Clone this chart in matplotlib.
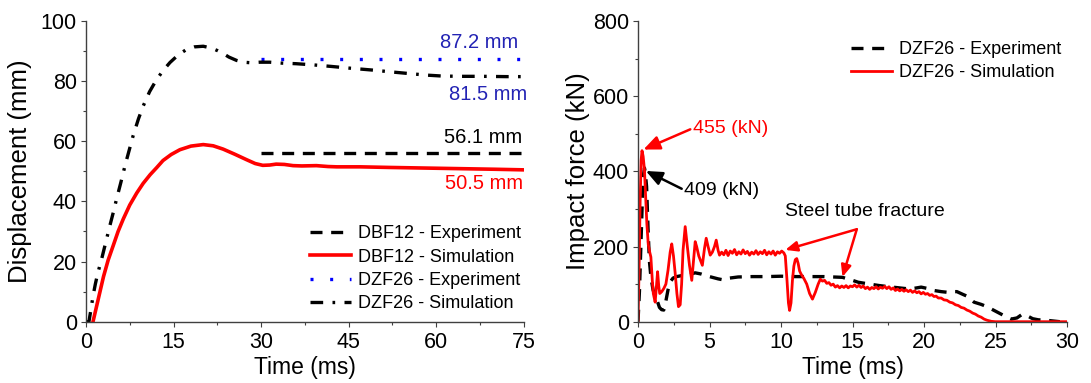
import matplotlib
matplotlib.use("Agg")
import matplotlib.pyplot as plt
from matplotlib.ticker import MultipleLocator

plt.rcParams['font.family'] = ['Liberation Sans', 'DejaVu Sans']

# ---------------- Displacement histories ----------------
t_dzf_sim = [0, 0.5, 0.8, 1.2, 1.6, 2.0, 2.7, 3.4, 4.1, 4.7, 5.2, 6.0, 6.7, 7.4, 8.1,
             9.0, 9.8, 10.9, 12.0, 13.2, 14.4, 15.8, 17.2, 18.6, 20.1, 21.5, 22.6,
             23.5, 24.5, 25.8, 27.0, 28.3, 29.8, 31.5, 33.5, 36.0, 39.0, 42.0, 45.3,
             49.0, 52.7, 55.5, 58.4, 61.0, 64.1, 68.0, 72.0, 75.0]
d_dzf_sim = [0, 0, 3.5, 8.5, 12.5, 16, 21, 26.5, 32, 36.5, 40.5, 46.5, 52, 57, 62,
             67.5, 71.7, 76.5, 80.2, 83.5, 86.2, 88.7, 90.5, 91.4, 91.6, 91.0, 90.1,
             89.2, 88.0, 86.9, 86.3, 86.1, 86.3, 86.3, 86.0, 85.8, 85.4, 84.9, 84.3,
             83.7, 83.0, 82.5, 82.0, 81.7, 81.6, 81.6, 81.5, 81.5]

t_dbf_sim = [1.2, 1.8, 2.4, 3.0, 3.8, 4.7, 5.5, 6.4, 7.5, 8.7, 9.8, 11.0, 12.1, 13.2,
             14.6, 16.1, 18.0, 20.1, 21.8, 23.5, 25.5, 27.5, 29.0, 30.3, 31.5, 32.6,
             34.0, 35.5, 37.0, 39.5, 41.5, 43.0, 47.0, 52.0, 58.0, 64.0, 70.0, 75.0]
d_dbf_sim = [0, 5, 10, 15, 20.5, 25.5, 30, 34.2, 38.8, 42.8, 46, 48.9, 51.2, 53.6,
             55.6, 57.2, 58.4, 58.9, 58.5, 57.4, 55.7, 53.9, 52.6, 52.0, 52.1, 52.4,
             52.3, 51.9, 51.8, 51.9, 51.6, 51.5, 51.5, 51.3, 51.1, 50.9, 50.7, 50.5]

t_exp_final = [30, 75]
dbf_exp_final = 56.1
dzf_exp_final = 87.2
dbf_sim_final = 50.5
dzf_sim_final = 81.5

# ---------------- Impact force histories (DZF26) ----------------
t_f_sim = [0, 0.08, 0.15, 0.22, 0.28, 0.36, 0.45, 0.55, 0.62, 0.72, 0.82, 0.9, 1.0,
           1.07, 1.2, 1.3, 1.37, 1.45, 1.52, 1.66, 1.8, 1.95, 2.1, 2.25, 2.36, 2.48,
           2.6, 2.72, 2.83, 2.95, 3.05, 3.15, 3.3, 3.45, 3.6, 3.76, 3.9, 4.0, 4.1,
           4.25, 4.4, 4.5, 4.65, 4.77, 4.9, 5.05, 5.2, 5.35, 5.47, 5.6, 5.7,
           5.85, 6.0, 6.15, 6.3, 6.45, 6.6, 6.75, 6.9, 7.05, 7.2, 7.35, 7.5, 7.65,
           7.8, 7.95, 8.1, 8.25, 8.4, 8.55, 8.7, 8.85, 9.0, 9.15, 9.3, 9.45, 9.6,
           9.75, 9.9, 10.05, 10.2, 10.3, 10.42, 10.52, 10.6, 10.7, 10.8, 10.9, 11.0,
           11.1, 11.2, 11.3, 11.4, 11.6, 11.8, 12.0, 12.2, 12.4, 12.6, 12.75, 12.9,
           13.05, 13.2, 13.35, 13.5, 13.65, 13.8, 13.95, 14.1, 14.25, 14.4, 14.55,
           14.7, 14.85, 15.0, 15.15, 15.3, 15.45, 15.6, 15.75, 15.9, 16.05, 16.2,
           16.35, 16.5, 16.65, 16.8, 16.95, 17.1, 17.25, 17.4, 17.55, 17.7, 17.85,
           18.0, 18.15, 18.3, 18.45, 18.6, 18.75, 18.9, 19.05, 19.2, 19.35, 19.5,
           19.65, 19.8, 19.95, 20.1, 20.25, 20.4, 20.55, 20.7, 20.85, 21.0, 21.2,
           21.4, 21.6, 21.8, 22.0, 22.2, 22.4, 22.6, 22.8, 23.0, 23.2, 23.4, 23.6,
           23.8, 24.0, 24.2, 24.4, 24.7, 25.0, 30.0]
f_sim = [0, 150, 320, 430, 455, 440, 405, 320, 260, 205, 185, 172, 110,
         75, 52, 100, 133, 95, 75, 80, 88, 100, 137, 185, 207, 175,
         129, 75, 40, 45, 100, 190, 253, 200, 150, 110, 170, 213, 200,
         175, 160, 150, 195, 222, 200, 177, 185, 200, 217, 190, 177,
         185, 178, 190, 176, 188, 182, 192, 178, 186, 180, 191, 181, 187,
         177, 185, 180, 189, 179, 186, 181, 190, 178, 186, 180, 188, 177,
         186, 182, 188, 183, 175, 110, 50, 30, 50, 110, 148, 165,
         168, 155, 135, 127, 115, 100, 75, 60, 78, 100, 113, 108,
         110, 102, 104, 97, 100, 92, 96, 90, 95, 91, 96,
         90, 95, 93, 98, 92, 97, 91, 95, 88, 92, 86,
         91, 88, 93, 87, 92, 89, 94, 88, 93, 86, 90,
         83, 87, 82, 86, 81, 85, 80, 84, 78, 82, 77,
         80, 74, 78, 73, 75, 70, 72, 67, 68, 63, 63,
         58, 57, 52, 50, 45, 43, 38, 36, 31, 28, 23, 20,
         15, 12, 7, 4, 1, 0, 0]

t_f_exp = [0, 0.1, 0.2, 0.3, 0.4, 0.45, 0.5, 0.6, 0.7, 0.8, 0.9, 1.05, 1.2, 1.35,
           1.5, 1.65, 1.8, 1.95, 2.1, 2.25, 2.45, 2.7, 3.1, 3.5, 4.0, 4.4, 4.8, 5.2,
           5.6, 6.0, 6.4, 7.0, 8.0, 9.0, 10.0, 11.0, 12.0, 13.0, 14.3, 15.0, 15.4,
           16.2, 16.9, 17.8, 18.5, 19.0, 19.5, 19.8, 20.3, 20.7, 21.2, 21.7, 22.0,
           22.3, 22.7, 23.0, 23.5, 24.0, 24.4, 24.9, 25.3, 25.8, 26.1, 26.5, 26.8,
           27.0, 27.3, 27.6, 28.0, 28.5, 29.0, 29.5]
f_exp = [0, 80, 200, 320, 395, 409, 400, 360, 250, 160, 120, 85, 68, 55,
         38, 32, 31, 55, 85, 106, 116, 120, 123, 125, 130, 127, 122, 118,
         114, 111, 116, 119, 120, 120, 121, 120, 120, 120, 118, 110, 105,
         100, 96, 92, 89, 87, 90, 92, 88, 83, 80, 78, 80,
         80, 73, 68, 52, 46, 40, 30, 22, 12, 7, 10, 18,
         20, 14, 8, 5, 4, 2, 0]

peak_sim = 455
peak_exp = 409

RED = '#FF0000'
BLUE_TXT = '#2323B4'
SPINE = '#404040'

fig = plt.figure(figsize=(10.91, 3.83), dpi=100)
ax1 = fig.add_axes([86 / 1091, 61.3 / 383, 437.5 / 1091, 300.7 / 383])
ax2 = fig.add_axes([638 / 1091, 61.3 / 383, 429 / 1091, 300.7 / 383])


def style_axes(ax, xmaj, xmin, ymaj, ymin):
    for side in ('top', 'right'):
        ax.spines[side].set_visible(False)
    for side in ('left', 'bottom'):
        ax.spines[side].set_color(SPINE)
        ax.spines[side].set_linewidth(1.0)
    ax.xaxis.set_major_locator(MultipleLocator(xmaj))
    ax.xaxis.set_minor_locator(MultipleLocator(xmin))
    ax.yaxis.set_major_locator(MultipleLocator(ymaj))
    ax.yaxis.set_minor_locator(MultipleLocator(ymin))
    ax.tick_params(which='major', direction='out', length=3.6, width=0.8,
                   color=SPINE, labelsize=15.5, pad=3)
    ax.tick_params(which='minor', direction='out', length=2.0, width=0.8,
                   color=SPINE)
    ax.tick_params(axis='x', which='major', pad=4)


# ---------------- Left panel: displacement ----------------
ax1.plot(t_exp_final, [dbf_exp_final] * 2, color='black', lw=2.4,
         dashes=(3.6, 2.6), label='DBF12 - Experiment')
ax1.plot(t_dbf_sim, d_dbf_sim, color=RED, lw=2.6, label='DBF12 - Simulation')
ax1.plot(t_exp_final, [dzf_exp_final] * 2, color='#0000FF', lw=2.4,
         dashes=(0.9, 5.0), label='DZF26 - Experiment')
ax1.plot(t_dzf_sim, d_dzf_sim, color='black', lw=2.4,
         dashes=(3.8, 2.8, 0.8, 2.8), label='DZF26 - Simulation')

ax1.set_xlim(0, 75)
ax1.set_ylim(0, 100)
style_axes(ax1, 15, 7.5, 20, 10)
ax1.set_xlabel('Time (ms)', fontsize=16.5, labelpad=2)
ax1.set_ylabel('Displacement (mm)', fontsize=18.5, labelpad=6)

ax1.text(74.1, 93.0, f'{dzf_exp_final} mm', color=BLUE_TXT, fontsize=14.5,
         ha='right', va='center')
ax1.text(75.6, 75.7, f'{dzf_sim_final} mm', color=BLUE_TXT, fontsize=14.5,
         ha='right', va='center')
ax1.text(74.7, 61.1, f'{dbf_exp_final} mm', color='black', fontsize=14.5,
         ha='right', va='center')
ax1.text(74.9, 45.8, f'{dbf_sim_final} mm', color=RED, fontsize=14.5,
         ha='right', va='center')

ax1.legend(loc='upper left', bbox_to_anchor=(0.512, 0.32), frameon=False,
           fontsize=13, borderpad=0, borderaxespad=0, handlelength=2.25,
           handletextpad=0.4, labelspacing=0.35)

# ---------------- Right panel: impact force ----------------
ax2.plot(t_f_exp, f_exp, color='black', lw=2.4, dashes=(3.6, 2.6),
         label='DZF26 - Experiment')
ax2.plot(t_f_sim, f_sim, color=RED, lw=2.0, label='DZF26 - Simulation')

ax2.set_xlim(0, 30)
ax2.set_ylim(0, 800)
style_axes(ax2, 5, 2.5, 200, 100)
ax2.set_xlabel('Time (ms)', fontsize=16.5, labelpad=2)
ax2.set_ylabel('Impact force (kN)', fontsize=18.5, labelpad=2)

ax2.legend(loc='upper left', bbox_to_anchor=(0.4965, 0.933), frameon=False,
           fontsize=13, borderpad=0, borderaxespad=0, handlelength=2.25,
           handletextpad=0.4, labelspacing=0.35)

arrow_kw = dict(arrowstyle='-|>,head_length=0.7,head_width=0.3', lw=1.8,
                shrinkA=0, shrinkB=0)
ax2.annotate(f'{peak_sim} (kN)', xy=(0.38, peak_sim + 3), xytext=(3.85, 515),
             color=RED, fontsize=14, ha='left', va='center',
             arrowprops=dict(color=RED, relpos=(0, 0.5), **arrow_kw))
ax2.annotate(f'{peak_exp} (kN)', xy=(0.55, peak_exp - 8), xytext=(3.25, 350),
             color='black', fontsize=14, ha='left', va='center',
             arrowprops=dict(color='black', relpos=(0, 0.5), **arrow_kw))
ax2.text(10.3, 294, 'Steel tube fracture', color='black', fontsize=14,
         ha='left', va='center')
ax2.annotate('', xy=(10.3, 191), xytext=(15.3, 246),
             arrowprops=dict(color=RED, **arrow_kw))
ax2.annotate('', xy=(14.3, 119), xytext=(15.3, 246),
             arrowprops=dict(color=RED, **arrow_kw))

fig.savefig('out.png', dpi=100)
